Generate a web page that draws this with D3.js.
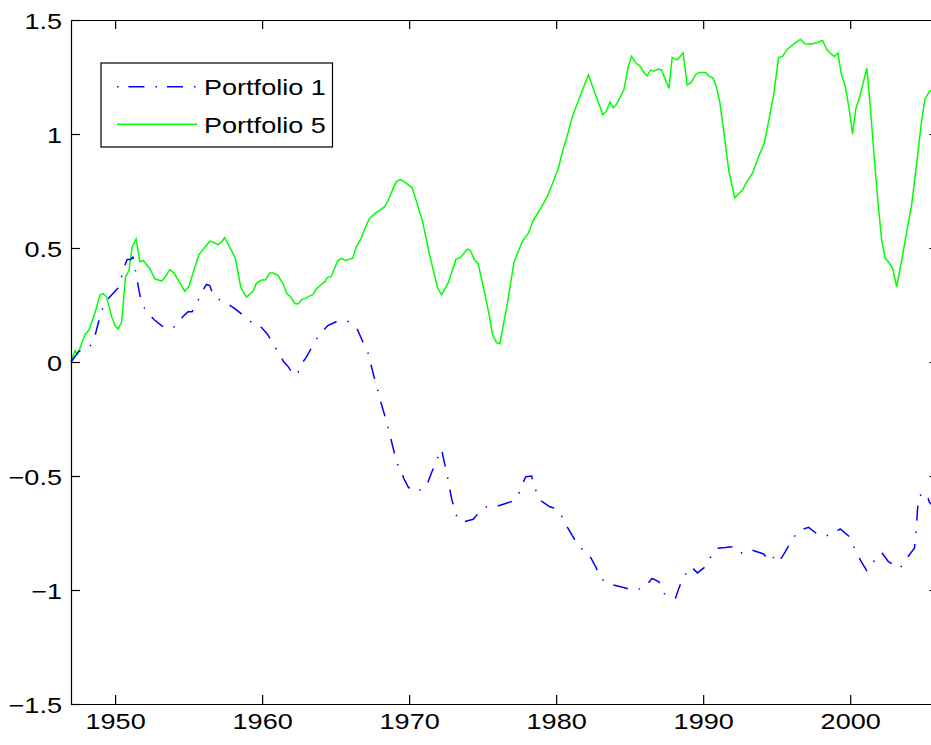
<!DOCTYPE html>
<html>
<head>
<meta charset="utf-8">
<script src="https://cdn.jsdelivr.net/npm/d3@7"></script>
<style>
  body { margin: 0; background: #fff; }
  svg { display: block; font-family: "Liberation Sans", Arial, Helvetica, sans-serif; }
</style>
</head>
<body>
<svg id="chart" width="931" height="745"></svg>
<script>
// Portfolio 5 (green, solid)
const p5Years = [1947.00, 1947.27, 1947.45, 1947.61, 1947.95, 1948.22, 1948.63, 1948.97, 1949.19, 1949.42,
  1949.76, 1949.99, 1950.21, 1950.44, 1950.71, 1950.94, 1951.16, 1951.43, 1951.68, 1951.91,
  1952.36, 1952.70, 1953.16, 1953.38, 1953.72, 1954.01, 1954.74, 1955.01, 1955.30, 1955.69,
  1956.44, 1956.66, 1957.00, 1957.23, 1957.45, 1957.91, 1958.18, 1958.54, 1958.93, 1959.38,
  1959.61, 1959.95, 1960.22, 1960.51, 1960.73, 1961.07, 1961.41, 1961.68, 1961.94, 1962.25,
  1962.48, 1962.70, 1963.00, 1963.23, 1963.45, 1963.68, 1964.02, 1964.24, 1964.43, 1964.70,
  1965.15, 1965.42, 1965.65, 1966.17, 1966.40, 1966.69, 1966.96, 1967.30, 1967.75, 1968.32,
  1968.54, 1969.11, 1969.38, 1969.56, 1970.20, 1970.47, 1970.92, 1971.37, 1971.94, 1972.21,
  1972.68, 1973.18, 1973.52, 1973.97, 1974.16, 1974.43, 1974.70, 1975.11, 1975.45, 1975.67,
  1975.94, 1976.17, 1976.65, 1977.14, 1977.71, 1978.11, 1978.43, 1978.96, 1979.40, 1980.15,
  1980.42, 1980.83, 1981.10, 1981.33, 1982.19, 1982.69, 1983.18, 1983.41, 1983.66, 1983.88,
  1984.11, 1984.61, 1984.90, 1985.13, 1985.44, 1985.68, 1985.97, 1986.19, 1986.42, 1986.65,
  1986.94, 1987.17, 1987.67, 1987.89, 1988.23, 1988.64, 1988.91, 1989.18, 1989.48, 1989.70,
  1990.16, 1990.38, 1990.67, 1990.88, 1991.13, 1991.40, 1991.74, 1992.15, 1992.37, 1992.69,
  1992.91, 1993.37, 1993.73, 1994.16, 1994.45, 1994.79, 1995.13, 1995.40, 1995.70, 1995.97,
  1996.27, 1996.61, 1996.95, 1997.39, 1997.73, 1998.12, 1998.41, 1998.71, 1998.93, 1999.16,
  1999.39, 1999.66, 1999.93, 2000.16, 2000.38, 2000.68, 2001.13, 2001.36, 2001.65, 2001.92,
  2002.15, 2002.38, 2002.65, 2002.89, 2003.16, 2003.50, 2003.84, 2004.18, 2004.52, 2004.86,
  2005.09, 2005.38, 2005.75];
const p5Values = [0.00, 0.05, 0.035, 0.06, 0.12, 0.14, 0.215, 0.295, 0.30, 0.285,
  0.20, 0.16, 0.145, 0.175, 0.375, 0.40, 0.505, 0.54, 0.44, 0.445,
  0.41, 0.365, 0.355, 0.37, 0.405, 0.39, 0.31, 0.33, 0.39, 0.47,
  0.53, 0.525, 0.515, 0.525, 0.545, 0.49, 0.455, 0.33, 0.285, 0.31,
  0.345, 0.36, 0.36, 0.39, 0.39, 0.38, 0.345, 0.30, 0.285, 0.255,
  0.255, 0.275, 0.28, 0.29, 0.295, 0.32, 0.34, 0.35, 0.37, 0.375,
  0.445, 0.455, 0.445, 0.455, 0.505, 0.535, 0.58, 0.63, 0.655, 0.68,
  0.705, 0.79, 0.80, 0.795, 0.765, 0.71, 0.615, 0.475, 0.325, 0.295,
  0.35, 0.45, 0.46, 0.495, 0.49, 0.45, 0.43, 0.31, 0.205, 0.12,
  0.085, 0.08, 0.245, 0.44, 0.53, 0.565, 0.62, 0.675, 0.725, 0.85,
  0.92, 1.01, 1.075, 1.115, 1.26, 1.17, 1.085, 1.10, 1.14, 1.115,
  1.13, 1.195, 1.295, 1.34, 1.31, 1.30, 1.27, 1.255, 1.28, 1.275,
  1.285, 1.28, 1.20, 1.335, 1.325, 1.355, 1.215, 1.225, 1.26, 1.27,
  1.27, 1.255, 1.245, 1.21, 1.14, 1.01, 0.84, 0.72, 0.735, 0.755,
  0.785, 0.83, 0.895, 0.96, 1.055, 1.17, 1.335, 1.34, 1.37, 1.385,
  1.40, 1.415, 1.395, 1.395, 1.40, 1.41, 1.37, 1.35, 1.34, 1.355,
  1.265, 1.21, 1.11, 1.00, 1.11, 1.17, 1.29, 1.125, 0.885, 0.68,
  0.53, 0.455, 0.435, 0.41, 0.33, 0.445, 0.57, 0.69, 0.87, 1.06,
  1.155, 1.185, 1.20];

// Portfolio 1 (blue, dash-dot)
const p1Years = [1947.00, 1947.50, 1947.84, 1948.29, 1948.63, 1948.85, 1949.12, 1949.42, 1949.92, 1950.21,
  1950.39, 1950.55, 1950.82, 1951.05, 1951.21, 1951.34, 1951.46, 1951.62, 1951.80, 1952.09,
  1952.66, 1953.16, 1953.50, 1954.06, 1954.62, 1954.96, 1955.23, 1955.64, 1955.98, 1956.21,
  1956.44, 1956.66, 1956.89, 1957.68, 1958.32, 1959.00, 1959.61, 1959.95, 1960.35, 1960.73,
  1961.19, 1961.48, 1961.75, 1962.16, 1962.61, 1962.77, 1963.00, 1963.38, 1963.79, 1964.47,
  1965.15, 1965.94, 1966.28, 1966.50, 1966.84, 1967.18, 1967.41, 1967.64, 1967.86, 1968.09,
  1968.32, 1968.54, 1968.77, 1969.00, 1969.22, 1969.45, 1969.63, 1969.95, 1970.47, 1971.17,
  1971.26, 1971.53, 1971.83, 1972.21, 1972.39, 1972.57, 1972.73, 1972.91, 1973.14, 1973.29,
  1973.75, 1974.36, 1974.88, 1975.26, 1975.78, 1976.46, 1977.14, 1977.43, 1977.60, 1977.94,
  1978.34, 1978.50, 1978.95, 1979.57, 1979.97, 1980.31, 1980.65, 1981.10, 1981.56, 1982.23,
  1982.69, 1983.03, 1983.59, 1984.39, 1985.17, 1985.97, 1986.53, 1986.99, 1987.33, 1987.67,
  1988.12, 1988.34, 1988.68, 1989.19, 1989.61, 1990.11, 1990.60, 1990.94, 1991.51, 1992.08,
  1992.42, 1992.64, 1993.32, 1994.12, 1994.41, 1994.68, 1995.13, 1995.59, 1996.00, 1996.49,
  1997.17, 1997.85, 1998.64, 1999.32, 1999.89, 2000.29, 2000.75, 2001.13, 2001.58, 2002.15,
  2002.60, 2003.39, 2003.84, 2004.37, 2004.45, 2004.52, 2004.64, 2004.98, 2005.20, 2005.37,
  2005.75];
const p1Values = [0.00, 0.045, 0.057, 0.067, 0.115, 0.17, 0.23, 0.27, 0.305, 0.325,
  0.36, 0.405, 0.45, 0.45, 0.46, 0.42, 0.375, 0.315, 0.26, 0.225,
  0.185, 0.16, 0.145, 0.155, 0.20, 0.22, 0.22, 0.27, 0.315, 0.34,
  0.335, 0.295, 0.28, 0.255, 0.225, 0.19, 0.155, 0.152, 0.123, 0.082,
  0.03, 0.00, -0.018, -0.06, -0.035, 0.00, 0.02, 0.065, 0.11, 0.16,
  0.18, 0.177, 0.16, 0.14, 0.09, 0.045, -0.013, -0.072, -0.123, -0.18,
  -0.23, -0.283, -0.34, -0.40, -0.45, -0.474, -0.51, -0.55, -0.57, -0.548,
  -0.53, -0.485, -0.437, -0.383, -0.44, -0.49, -0.547, -0.605, -0.656, -0.69,
  -0.70, -0.69, -0.65, -0.635, -0.637, -0.623, -0.608, -0.586, -0.547, -0.503,
  -0.50, -0.547, -0.608, -0.635, -0.642, -0.668, -0.712, -0.762, -0.81, -0.843,
  -0.898, -0.949, -0.974, -0.986, -1.00, -0.993, -0.949, -0.964, -1.015, -1.03,
  -1.036, -0.993, -0.942, -0.898, -0.925, -0.90, -0.846, -0.817, -0.814, -0.81,
  -0.817, -0.839, -0.825, -0.842, -0.868, -0.851, -0.88, -0.832, -0.784, -0.74,
  -0.725, -0.759, -0.762, -0.732, -0.763, -0.817, -0.876, -0.915, -0.876, -0.836,
  -0.876, -0.905, -0.861, -0.817, -0.766, -0.707, -0.59, -0.576, -0.576, -0.613,
  -0.64];

const xTicks = [1950, 1960, 1970, 1980, 1990, 2000];
const yTicks = [-1.5, -1, -0.5, 0, 0.5, 1, 1.5];
const yTickLabels = ["\u22121.5", "\u22121", "\u22120.5", "0", "0.5", "1", "1.5"];
const seriesNames = ["Portfolio 1", "Portfolio 5"];

const svg = d3.select("#chart");
const plotLeft = 71, plotRight = 938.4, plotTop = 20, plotBottom = 704;
const stretch = 1.23;  // text in the reference is wider than it is tall

const x = d3.scaleLinear().domain([1947, 2006]).range([plotLeft, plotRight]);
const y = d3.scaleLinear().domain([-1.5, 1.5]).range([plotBottom, plotTop]);

// lines
const line = d3.line().x(d => x(d[0])).y(d => y(d[1]));

svg.append("path")
    .datum(d3.zip(p5Years, p5Values))
    .attr("d", line)
    .attr("fill", "none")
    .attr("stroke", "#00ff00")
    .attr("stroke-width", 1.5);

svg.append("path")
    .datum(d3.zip(p1Years, p1Values))
    .attr("d", line)
    .attr("fill", "none")
    .attr("stroke", "#0000ff")
    .attr("stroke-width", 1.5)
    .attr("stroke-dasharray", "15,11,1.5,11");

// axes, ticks pointing inward like MATLAB
function styleAxis(g) {
    g.selectAll("path, line").attr("stroke", "#000").attr("stroke-width", 1.2);
    g.selectAll("text")
        .attr("fill", "#000")
        .style("font-size", "22px");
}

svg.append("g")
    .attr("transform", `translate(0,${plotBottom})`)
    .call(d3.axisBottom(x).tickValues(xTicks).tickSize(-9).tickSizeOuter(0).tickFormat(d3.format("d")))
    .call(styleAxis)
    .call(g => g.selectAll("text")
        .attr("y", null).attr("dy", null)
        .attr("text-anchor", "middle")
        .attr("transform", `translate(0,25) scale(${stretch},1)`));

svg.append("g")
    .attr("transform", `translate(${plotLeft},0)`)
    .call(d3.axisLeft(y).tickValues(yTicks).tickSize(-9).tickSizeOuter(0)
        .tickFormat((d, i) => yTickLabels[i]))
    .call(styleAxis)
    .call(g => g.selectAll("text")
        .attr("x", null).attr("dy", null)
        .attr("text-anchor", "end")
        .attr("transform", `translate(-9,8.5) scale(${stretch},1)`));

svg.append("g")
    .attr("transform", `translate(0,${plotTop})`)
    .call(d3.axisTop(x).tickValues(xTicks).tickSize(-9).tickSizeOuter(0).tickFormat(""))
    .call(styleAxis);

svg.append("g")
    .attr("transform", `translate(${plotRight},0)`)
    .call(d3.axisRight(y).tickValues(yTicks).tickSize(-9).tickSizeOuter(0).tickFormat(""))
    .call(styleAxis);

// legend
const legend = svg.append("g").attr("transform", "translate(101,63)");
legend.append("rect")
    .attr("width", 231.5).attr("height", 84)
    .attr("fill", "#fff").attr("stroke", "#000").attr("stroke-width", 1.2);

const rows = legend.selectAll(".row")
    .data(seriesNames)
    .enter().append("g")
    .attr("class", "row")
    .attr("transform", (d, i) => `translate(0,${23.7 + i * 37.6})`);

rows.append("line")
    .attr("x1", 16).attr("x2", 96)
    .attr("stroke", (d, i) => i === 0 ? "#0000ff" : "#00ff00")
    .attr("stroke-width", 1.5)
    .attr("stroke-dasharray", (d, i) => i === 0 ? "1.5,10,16,11" : null);

rows.append("text")
    .attr("transform", `translate(103,8.5) scale(${stretch},1)`)
    .style("font-size", "22px")
    .attr("fill", "#000")
    .text(d => d);
</script>
</body>
</html>
